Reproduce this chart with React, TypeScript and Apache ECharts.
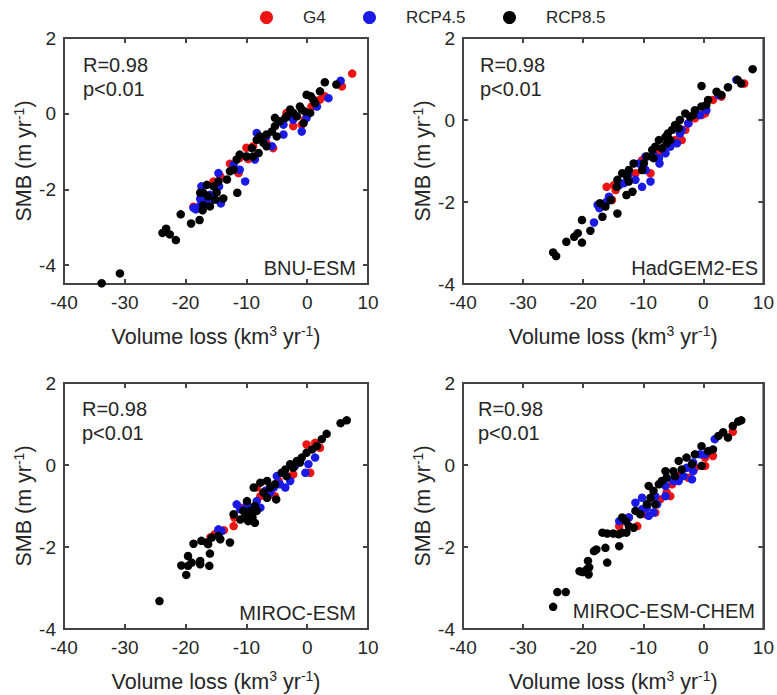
import React, { useEffect, useRef } from "react";
import * as echarts from "echarts";

const MODELS = ["BNU-ESM", "HadGEM2-ES", "MIROC-ESM", "MIROC-ESM-CHEM"];
const SCENARIOS = ["G4", "RCP4.5", "RCP8.5"];
const COLORS = ["#ee1414", "#1a1ae6", "#000000"];
const X_TICKS = [-40, -30, -20, -10, 0, 10];
const Y_TICKS = [-4, -2, 0, 2];
const Y_MIN = [-4.5, -4, -4, -4];
const STATS = ["R=0.98", "p<0.01"];

// BNU-ESM
const bnuG4 = [[7.4,1.06],[5.7,0.72],[2.9,0.46],[2.1,0.37],[0.7,0.19],[-0.4,-0.16],[-0.9,-0.29],[-2.3,-0.33],[-2.8,-0.07],[-3.4,0.02],[-5.6,-0.91],[-6.7,-0.77],[-7.5,-0.69],[-8.9,-0.86],[-9.7,-1.2],[-10.0,-0.9],[-11.1,-1.17],[-11.3,-1.57],[-12.7,-1.32],[-14.3,-1.65],[-15.4,-1.79],[-18.7,-2.46]];
const bnuRcp45 = [[5.5,0.87],[3.5,0.41],[1.6,0.19],[-0.1,-0.11],[-0.9,-0.47],[-2.3,-0.16],[-3.9,-0.29],[-3.9,-0.55],[-5.8,-0.86],[-6.7,-0.6],[-8.3,-0.51],[-8.6,-1.21],[-10.0,-1.13],[-10.2,-1.79],[-11.1,-1.48],[-12.1,-1.35],[-14.6,-1.57],[-14.5,-1.92],[-14.2,-2.37],[-15.4,-2.27],[-16.0,-2.14],[-16.5,-2.27],[-17.4,-1.92],[-17.6,-2.25],[-17.6,-2.43],[-18.3,-2.53],[-18.7,-2.49]];
const bnuRcp85 = [[-33.8,-4.48],[-30.8,-4.22],[-23.8,-3.15],[-23.2,-3.04],[-22.6,-3.19],[-21.6,-3.34],[-20.8,-2.66],[-19.1,-2.9],[-17.7,-2.81],[-17.6,-2.09],[-17.2,-2.55],[-17.1,-2.42],[-17.1,-2.09],[-16.5,-1.88],[-16.3,-2.18],[-16.0,-2.45],[-15.4,-1.92],[-15.1,-2.27],[-14.9,-2.08],[-14.6,-1.79],[-13.8,-2.24],[-13.2,-1.74],[-12.7,-1.52],[-12.1,-1.48],[-11.6,-1.21],[-11.5,-2.09],[-11.1,-1.08],[-10.0,-1.13],[-9.1,-0.91],[-8.9,-1.13],[-8.3,-0.69],[-8.0,-1.04],[-7.8,-0.6],[-7.2,-0.77],[-6.7,-0.86],[-6.7,-0.55],[-5.8,-0.47],[-5.3,-0.33],[-5.3,-0.11],[-5.0,-0.6],[-4.5,-0.2],[-3.6,-0.11],[-3.4,-0.07],[-2.8,0.11],[-2.3,0.02],[-1.7,-0.07],[-1.2,0.19],[-0.9,0.11],[-0.6,-0.25],[-0.4,0.06],[-0.1,0.5],[0.5,0.02],[0.6,0.46],[1.0,0.37],[1.3,0.28],[2.1,0.59],[2.9,0.83],[4.8,0.77]];

// HadGEM2-ES
const hadG4 = [[6.8,0.89],[3.0,0.57],[1.6,0.49],[0.3,0.16],[-0.3,0.12],[-1.4,0.04],[-2.5,-0.08],[-3.0,-0.24],[-3.6,-0.49],[-4.7,-0.49],[-6.3,-0.65],[-6.9,-0.73],[-7.4,-0.81],[-8.8,-1.3],[-10.2,-0.98],[-11.3,-1.3],[-12.4,-1.3],[-14.6,-1.71],[-14.9,-1.59],[-15.2,-1.95],[-16.1,-1.63]];
const hadRcp45 = [[5.5,0.98],[2.5,0.61],[0.5,0.24],[-0.6,0.12],[-2.5,-0.08],[-3.6,-0.24],[-3.9,-0.33],[-4.4,-0.57],[-5.5,-0.65],[-6.3,-0.81],[-7.3,-1.06],[-7.4,-0.93],[-8.3,-0.85],[-8.8,-1.5],[-9.6,-0.89],[-9.6,-1.22],[-10.2,-1.63],[-10.7,-1.06],[-11.3,-1.46],[-12.5,-1.34],[-13.2,-1.54],[-14.0,-1.59],[-15.7,-1.87],[-16.1,-1.99],[-17.3,-2.15],[-17.6,-2.07],[-18.2,-2.5]];
const hadRcp85 = [[8.2,1.24],[6.3,0.89],[5.7,0.98],[4.1,0.8],[3.0,0.61],[2.2,0.69],[0.8,0.49],[0.5,0.37],[-0.3,0.83],[-0.3,0.33],[-1.4,0.24],[-1.7,0.12],[-2.2,0.08],[-3.0,0.16],[-3.9,0.0],[-4.1,-0.2],[-4.7,-0.12],[-5.2,-0.24],[-5.5,-0.49],[-5.9,-0.33],[-6.1,-0.57],[-6.3,-0.41],[-6.9,-0.69],[-7.4,-0.49],[-8.0,-0.65],[-8.3,-0.93],[-8.5,-0.73],[-9.4,-0.89],[-9.9,-1.06],[-10.2,-1.22],[-11.6,-1.06],[-11.8,-1.75],[-12.4,-1.22],[-12.4,-1.5],[-12.7,-1.38],[-12.8,-1.83],[-13.5,-1.3],[-14.3,-1.46],[-14.4,-1.63],[-14.3,-2.28],[-15.4,-1.95],[-16.3,-2.11],[-16.8,-2.36],[-17.2,-2.03],[-18.8,-2.7],[-20.2,-2.44],[-20.9,-2.76],[-20.2,-2.99],[-21.5,-2.85],[-22.8,-2.97],[-24.5,-3.32],[-25.0,-3.23]];

// MIROC-ESM
const mirG4 = [[2.1,0.42],[1.3,0.54],[-0.1,0.5],[0.5,-0.19],[-2.3,-0.23],[-2.8,-0.31],[-4.7,-0.39],[-5.3,-0.76],[-6.4,-0.63],[-7.7,-0.76],[-8.3,-0.55],[-11.0,-1.04],[-12.0,-1.28],[-12.1,-1.49],[-13.7,-1.59],[-15.2,-1.69],[-15.9,-1.76]];
const mirRcp45 = [[1.3,0.18],[0.2,0.02],[-0.3,-0.19],[-2.0,-0.02],[-2.8,-0.39],[-3.6,-0.55],[-4.5,-0.47],[-5.0,-0.27],[-5.5,-0.55],[-6.1,-0.67],[-6.9,-0.63],[-7.7,-1.04],[-8.3,-0.88],[-8.8,-1.04],[-9.9,-0.96],[-11.0,-1.08],[-11.6,-0.96],[-14.1,-1.61],[-14.6,-1.57]];
const mirRcp85 = [[6.5,1.09],[5.5,1.02],[3.2,0.76],[2.4,0.63],[1.6,0.46],[0.8,0.38],[-0.1,0.3],[-0.9,0.18],[-1.2,0.06],[-1.7,0.1],[-2.3,-0.07],[-2.8,0.02],[-3.4,-0.27],[-3.6,-0.11],[-4.2,-0.19],[-5.1,-0.84],[-5.3,-0.47],[-6.1,-0.55],[-6.6,-0.39],[-6.6,-0.8],[-7.2,-0.67],[-7.7,-0.43],[-8.3,-1.12],[-8.6,-1.0],[-8.6,-1.41],[-8.8,-0.55],[-9.0,-1.28],[-9.4,-1.12],[-9.7,-1.37],[-9.9,-0.88],[-10.2,-1.24],[-10.5,-1.12],[-11.0,-1.33],[-12.1,-1.2],[-12.7,-1.89],[-14.3,-1.81],[-14.6,-1.73],[-15.7,-1.77],[-16.0,-2.16],[-16.1,-2.46],[-16.3,-1.93],[-16.5,-1.89],[-17.4,-1.85],[-17.6,-2.34],[-17.6,-2.42],[-18.7,-1.92],[-19.0,-2.38],[-19.6,-2.22],[-19.6,-2.46],[-19.9,-2.68],[-20.7,-2.45],[-24.3,-3.32]];

// MIROC-ESM-CHEM
const chemG4 = [[4.9,0.81],[1.6,0.22],[0.3,0.18],[0.3,-0.02],[-1.4,-0.07],[-2.5,-0.31],[-4.1,-0.27],[-5.2,-0.47],[-5.5,-0.76],[-6.1,-0.67],[-7.2,-0.84],[-8.0,-1.16],[-9.6,-1.2],[-9.9,-1.08],[-11.0,-1.49],[-12.4,-1.28],[-14.0,-1.49]];
const chemRcp45 = [[1.9,0.63],[0.3,0.26],[-0.6,0.26],[-1.7,0.06],[-1.7,-0.15],[-1.9,-0.35],[-2.8,-0.07],[-3.3,-0.27],[-4.1,-0.39],[-5.0,-0.39],[-6.3,-0.51],[-6.3,-0.76],[-7.7,-0.96],[-8.0,-0.76],[-8.3,-1.16],[-9.1,-1.24],[-9.4,-1.04],[-10.2,-0.8],[-10.2,-1.08],[-11.3,-0.92],[-12.4,-1.28],[-12.9,-1.33],[-14.0,-1.37]];
const chemRcp85 = [[6.3,1.09],[5.8,1.06],[4.9,0.95],[4.1,0.67],[3.3,0.8],[2.5,0.71],[1.6,0.38],[0.8,0.34],[-0.3,0.46],[-0.3,-0.02],[-1.4,0.26],[-1.9,0.02],[-2.8,0.18],[-3.6,-0.11],[-4.1,0.1],[-4.7,-0.27],[-5.0,-0.15],[-6.1,-0.31],[-6.3,-0.15],[-6.9,-0.39],[-7.4,-0.47],[-8.0,-0.96],[-8.3,-0.63],[-8.8,-0.8],[-9.1,-0.51],[-9.4,-0.96],[-10.5,-1.2],[-11.3,-1.12],[-11.6,-1.53],[-12.4,-1.49],[-12.8,-1.65],[-12.9,-1.37],[-13.5,-1.28],[-13.5,-1.65],[-14.0,-1.98],[-14.1,-1.69],[-15.0,-1.67],[-16.0,-1.67],[-16.0,-2.38],[-16.3,-2.02],[-16.8,-1.65],[-17.8,-2.06],[-18.2,-2.1],[-19.0,-2.5],[-19.1,-2.67],[-19.2,-2.34],[-19.4,-2.55],[-20.1,-2.61],[-20.6,-2.59],[-22.9,-3.1],[-24.3,-3.1],[-25.0,-3.46]];

const PANEL_DATA = [
  [bnuG4, bnuRcp45, bnuRcp85],
  [hadG4, hadRcp45, hadRcp85],
  [mirG4, mirRcp45, mirRcp85],
  [chemG4, chemRcp45, chemRcp85],
];

const FONT = "'Liberation Sans', Arial, Helvetica, sans-serif";
const TEXT = "#262626";
const LINE = "#444";

const GRIDS = [
  { left: 64, top: 38, width: 304, height: 246 },
  { left: 463, top: 38, width: 303, height: 246 },
  { left: 64, top: 383, width: 304, height: 246 },
  { left: 463, top: 383, width: 303, height: 246 },
];
const STAT_POS = [[83, 65], [480, 65], [82, 409], [478, 409]];
const MODEL_POS = [[356, 268], [758, 268], [356, 613], [755, 611]];
const LEGEND_LEFT = [260, 363, 503];

function mkLine() {
  return { color: LINE, width: 2 };
}

export default function App() {
  const ref = useRef<HTMLDivElement>(null);
  useEffect(() => {
    document.body.style.margin = "0";
    if (!ref.current) return;
    const chart = echarts.init(ref.current, undefined, { renderer: "svg" });
    const rich = {
      a: { fontSize: 21.5, lineHeight: 25, color: TEXT, fontFamily: FONT },
      s: { fontSize: 14, lineHeight: 15, verticalAlign: "top", color: TEXT, fontFamily: FONT },
    };
    const xAxis: any[] = [];
    const yAxis: any[] = [];
    const series: any[] = [];
    const graphic: any[] = [];
    GRIDS.forEach((g, i) => {
      xAxis.push({
        gridIndex: i, type: "value", min: X_TICKS[0], max: X_TICKS[X_TICKS.length - 1], interval: 10,
        axisLine: { show: true, onZero: false, lineStyle: mkLine() },
        axisTick: { show: true, inside: true, length: 5, lineStyle: mkLine() },
        axisLabel: { show: true, fontSize: 19, color: TEXT, fontFamily: FONT, margin: 9 },
        splitLine: { show: false },
        name: "{a|Volume loss (km}{s|3}{a| yr}{s|-1}{a|)}",
        nameLocation: "middle", nameGap: 40,
        nameTextStyle: { rich },
      });
      xAxis.push({
        gridIndex: i, type: "value", position: "top", min: X_TICKS[0], max: X_TICKS[X_TICKS.length - 1], interval: 10,
        axisLine: { show: true, onZero: false, lineStyle: mkLine() },
        axisTick: { show: true, inside: true, length: 5, lineStyle: mkLine() },
        axisLabel: { show: false }, splitLine: { show: false },
      });
      yAxis.push({
        gridIndex: i, type: "value", min: Y_MIN[i], max: 2,
        axisLine: { show: true, onZero: false, lineStyle: mkLine() },
        axisTick: { show: true, inside: true, length: 5, lineStyle: mkLine(), customValues: Y_TICKS },
        axisLabel: { show: true, fontSize: 19, color: TEXT, fontFamily: FONT, margin: 8, customValues: Y_TICKS },
        splitLine: { show: false },
        name: "{a|SMB (m yr}{s|-1}{a|)}",
        nameLocation: "middle", nameRotate: 90, nameGap: 27,
        nameTextStyle: { rich },
      });
      yAxis.push({
        gridIndex: i, type: "value", position: "right", min: Y_MIN[i], max: 2,
        axisLine: { show: true, onZero: false, lineStyle: mkLine() },
        axisTick: { show: true, inside: true, length: 5, lineStyle: mkLine(), customValues: Y_TICKS },
        axisLabel: { show: false, customValues: Y_TICKS }, splitLine: { show: false },
      });
      SCENARIOS.forEach((s, j) => {
        series.push({
          type: "scatter", name: s, xAxisIndex: 2 * i, yAxisIndex: 2 * i,
          data: PANEL_DATA[i][j], symbolSize: 8.5,
          itemStyle: { color: COLORS[j], opacity: 1 },
        });
      });
      STATS.forEach((t, k) => {
        graphic.push({
          type: "text", x: STAT_POS[i][0], y: STAT_POS[i][1] + k * 24,
          style: { text: t, fill: TEXT, fontSize: 20, fontFamily: FONT, textAlign: "left", textVerticalAlign: "middle" },
        });
      });
      graphic.push({
        type: "text", x: MODEL_POS[i][0], y: MODEL_POS[i][1],
        style: { text: MODELS[i], fill: TEXT, fontSize: 20, fontFamily: FONT, textAlign: "right", textVerticalAlign: "middle" },
      });
    });
    const legend = SCENARIOS.map((s, j) => ({
      data: [s], left: LEGEND_LEFT[j], top: 9, padding: 0, icon: "circle",
      itemWidth: 13, itemHeight: 13,
      formatter: "{t|{name}}",
      textStyle: {
        fontSize: 17,
        rich: { t: { fontSize: 17, fontFamily: FONT, color: TEXT, padding: [0, 0, 0, 25] } },
      },
    }));
    chart.setOption({
      animation: false,
      textStyle: { fontFamily: FONT },
      legend,
      grid: GRIDS.map((g) => ({ ...g, show: true, borderColor: LINE, borderWidth: 2 })),
      xAxis, yAxis, series, graphic,
    });
    return () => chart.dispose();
  }, []);
  return <div ref={ref} style={{ width: 777, height: 695 }} />;
}
